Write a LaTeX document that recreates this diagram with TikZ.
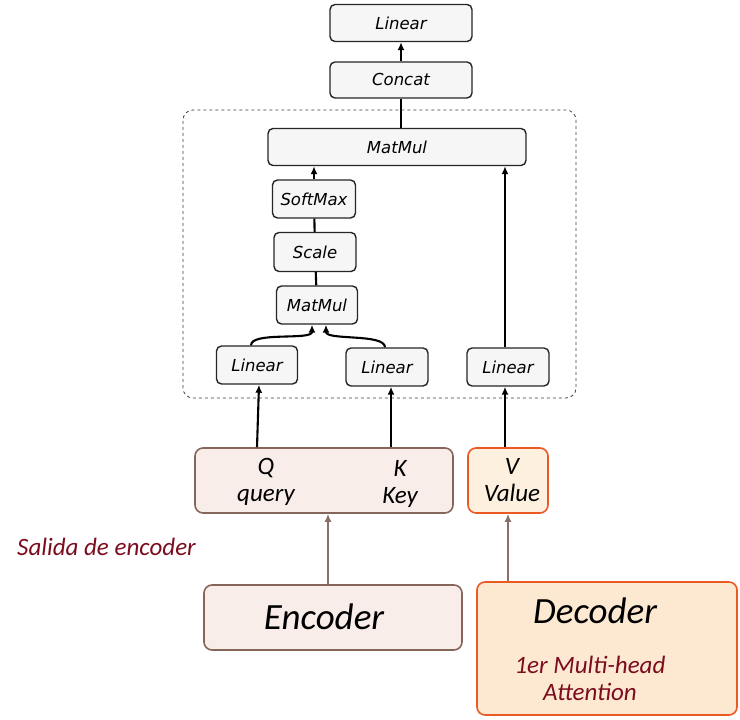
\documentclass[tikz,border=0pt]{standalone}
\usepackage{fontspec}
\usepackage{tikz}
\usetikzlibrary{arrows.meta}
\usetikzlibrary{shapes}
\newfontfamily\dejavu{DejaVu Sans}
\newfontfamily\carlito{Carlito}
\definecolor{boxfill}{HTML}{F6F6F7}
\definecolor{qkfill}{HTML}{F8EDE9}
\definecolor{qkdraw}{HTML}{86665A}
\definecolor{vfill}{HTML}{FDF0DE}
\definecolor{vdraw}{HTML}{EC5A24}
\definecolor{decfill}{HTML}{FDE9D2}
\definecolor{darkred}{HTML}{7B0D1E}
\definecolor{feedcol}{HTML}{8A7068}

\begin{document}
\begin{tikzpicture}[x=1pt, y=1pt]
    \tikzstyle{block}  = [rectangle, draw=black!85, fill=boxfill, line width=1.4pt, rounded corners=5pt, inner sep=0pt, font=\dejavu\itshape\fontsize{16.5}{18}\selectfont]
    \tikzstyle{input}  = [rectangle, line width=1.6pt, rounded corners=8pt, inner sep=0pt]
    \tikzstyle{txt}    = [align=center, inner sep=0pt, font=\carlito\itshape\fontsize{25}{27}\selectfont]
    \tikzstyle{line}   = [draw, line width=2.1pt, -{Latex[length=8pt,width=7pt]}]
    \tikzstyle{plain}  = [draw, line width=2.1pt]
    \tikzstyle{feedline} = [draw=feedcol, line width=1.8pt, -{Latex[length=8pt,width=7pt]}]

    \useasboundingbox (0,0) rectangle (740,720);
    \fill [white] (0,0) rectangle (740,720);
    \draw [thick, dashed, black!75, rounded corners=10pt] (183,322) rectangle (576,610);

    % Place nodes
    % attention:
    \node [block, minimum width=142, minimum height=37] (linOut) at (401,697) {Linear};
    \node [block, minimum width=142, minimum height=36] (concat) at (401,640) {Concat};
    \node [block, minimum width=258, minimum height=37] (matmulOut) at (397,573) {MatMul};
    \node [block, minimum width=83, minimum height=38] (softmax) at (314,521) {SoftMax};
    \node [block, minimum width=82, minimum height=39] (scale) at (315,468) {Scale};
    \node [block, minimum width=81, minimum height=38] (matmul) at (317,415) {MatMul};
    \node [block, minimum width=81, minimum height=38] (linQ) at (257,355) {Linear};
    \node [block, minimum width=82, minimum height=38] (linK) at (387,353) {Linear};
    \node [block, minimum width=82, minimum height=38] (linV) at (508,353) {Linear};

    % inputs:
    \node [input, draw=qkdraw, fill=qkfill, minimum width=258, minimum height=65] (qk) at (324,239.5) {};
    \node [txt] (q) at (266,238) {Q\\query};
    \node [txt] (k) at (400,236) {K\\Key};
    \node [input, draw=vdraw, fill=vfill, minimum width=80, minimum height=65] (v) at (508,239.5) {};
    \node [txt] (vtext) at (512,240) {V\\Value};

    % encoder / decoder:
    \node [input, draw=qkdraw, fill=qkfill, minimum width=258, minimum height=65] (encoder) at (333,102.5) {};
    \node [txt, font=\carlito\itshape\fontsize{37}{40}\selectfont] (enctext) at (324,103) {Encoder};
    \node [input, draw=vdraw, fill=decfill, minimum width=260, minimum height=133] (decoder) at (607,71.5) {};
    \node [txt, font=\carlito\itshape\fontsize{37}{40}\selectfont] (dectext) at (595,109) {Decoder};
    \node [txt, text=darkred] (mha) at (590,42) {1er Multi-head\\Attention};
    \node [txt, text=darkred, anchor=west] (salida) at (17,173) {Salida de encoder};

    \path [line] (concat) -- (linOut);
    \path [plain] (concat.south |- matmulOut.north) -- (concat.south);
    \path [line] (softmax.north) -- (softmax.north |- matmulOut.south);
    \path [plain] (scale) -- (softmax);
    \path [plain] (matmul) -- (scale);
    \path [line] ([xshift=-3pt]linV.north) -- ([xshift=-3pt]linV.north |- matmulOut.south);
    \path [line] ([xshift=-6pt]linQ.north) .. controls +(0,14) and +(0,-16) .. ([xshift=-5pt]matmul.south);
    \path [line] ([xshift=-2pt]linK.north) .. controls +(0,14) and +(0,-16) .. ([xshift=9pt]matmul.south);

    \path [line] (linQ.south |- qk.north) -- ([xshift=2pt]linQ.south);
    \path [line] ([xshift=4pt]linK.south |- qk.north) -- ([xshift=4pt]linK.south);
    \path [line] ([xshift=-3pt]linV.south |- v.north) -- ([xshift=-3pt]linV.south);

    \path [feedline] ([xshift=-5pt]encoder.north) -- ([xshift=-5pt]encoder.north |- qk.south);
    \path [feedline] (decoder.north -| v.south) -- (v.south);
\end{tikzpicture}
\end{document}
